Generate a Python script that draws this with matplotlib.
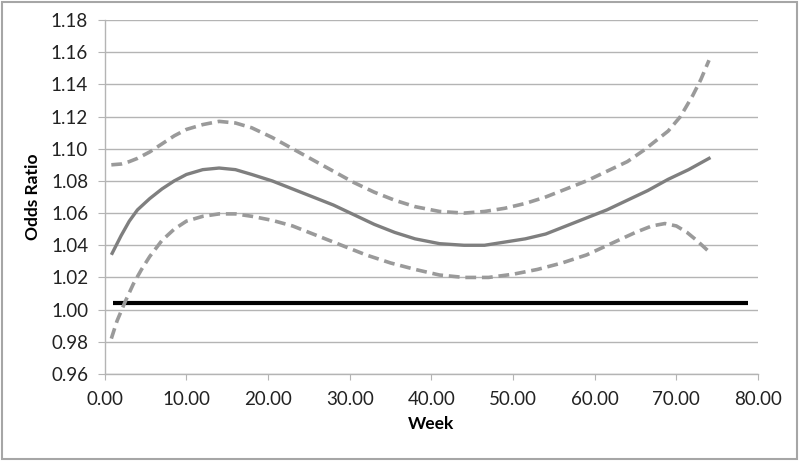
import matplotlib
matplotlib.use("Agg")
import matplotlib.pyplot as plt
from matplotlib.patches import Rectangle

plt.rcParams['font.family'] = ['Lato', 'DejaVu Sans']

# odds ratio estimate (solid)
est_week = [0.9, 2, 3, 4, 5.5, 7, 8.5, 10, 12, 14, 16, 18, 20.5, 23, 25.5, 28, 30.5,
            33, 35.5, 38, 41, 44, 46.5, 49, 51.5, 54, 56.5, 59, 61.5, 64, 66.5, 69, 71.5, 74]
est_or = [1.035, 1.046, 1.055, 1.062, 1.069, 1.075, 1.080, 1.084, 1.087, 1.088, 1.087,
          1.084, 1.080, 1.075, 1.070, 1.065, 1.059, 1.053, 1.048, 1.044, 1.041, 1.040,
          1.040, 1.042, 1.044, 1.047, 1.052, 1.057, 1.062, 1.068, 1.074, 1.081, 1.087, 1.094]

# upper confidence limit
up_week = [0.8, 2, 3, 4, 5.5, 7, 8.5, 10, 12, 14, 16, 18, 20.5, 23, 25.5, 28, 30.5, 33,
           35.5, 38, 41, 44, 46.5, 49, 51.5, 54, 56.5, 59, 61.5, 64, 66, 67.5, 69, 70.5,
           72, 73, 74]
up_or = [1.090, 1.0905, 1.092, 1.094, 1.098, 1.103, 1.108, 1.112, 1.115, 1.117, 1.116,
         1.113, 1.107, 1.100, 1.093, 1.086, 1.079, 1.073, 1.068, 1.064, 1.061, 1.060,
         1.061, 1.063, 1.066, 1.070, 1.075, 1.080, 1.086, 1.092, 1.099, 1.105, 1.111,
         1.120, 1.133, 1.143, 1.155]

# lower confidence limit
lo_week = [0.8, 1.5, 2.5, 3.5, 4.5, 5.5, 7, 8.5, 10, 12, 14, 16, 18, 20.5, 23, 26, 29,
           32, 35, 38, 41, 44, 47, 50, 53, 56, 59, 62, 65, 67, 68.6, 70, 71.3, 72.5, 74]
lo_or = [0.982, 0.993, 1.005, 1.016, 1.025, 1.033, 1.043, 1.050, 1.055, 1.058, 1.0595,
         1.0595, 1.058, 1.0555, 1.052, 1.046, 1.040, 1.034, 1.029, 1.025, 1.0215, 1.020,
         1.020, 1.022, 1.025, 1.029, 1.034, 1.041, 1.048, 1.052, 1.0535, 1.052, 1.048,
         1.043, 1.036]

# reference line
ref_week = [1.0, 78.8]
ref_or = [1.004, 1.004]

fig = plt.figure(figsize=(8, 4.62), dpi=100)
ax = fig.add_axes([0.131, 0.1905, 0.8165, 0.7662])

ax.plot(ref_week, ref_or, color='black', lw=3, solid_capstyle='butt', zorder=3)
ax.plot(up_week, up_or, color='#9a9a9a', lw=2.6, dashes=(3.0, 1.6), zorder=4)
ax.plot(lo_week, lo_or, color='#9a9a9a', lw=2.6, dashes=(3.0, 1.6), zorder=4)
ax.plot(est_week, est_or, color='#7f7f7f', lw=2.4, zorder=5)

ax.set_xlim(0, 80)
ax.set_ylim(0.96, 1.18)
ax.set_xticks(range(0, 81, 10))
ax.set_yticks([0.96 + 0.02 * i for i in range(12)])
ax.xaxis.set_major_formatter(plt.FormatStrFormatter('%.2f'))
ax.yaxis.set_major_formatter(plt.FormatStrFormatter('%.2f'))
ax.grid(axis='y', color='#b4b4b4', lw=1)
ax.set_axisbelow(True)
for s in ['top', 'right']:
    ax.spines[s].set_visible(False)
for s in ['left', 'bottom']:
    ax.spines[s].set_color('#b4b4b4')
    ax.spines[s].set_linewidth(1)
ax.tick_params(axis='y', length=5, color='#b4b4b4', labelsize=13.5, pad=7, labelcolor='#222222')
ax.tick_params(axis='x', length=4, color='#b4b4b4', labelsize=13.5, pad=8, labelcolor='#222222')
ax.set_xlabel('Week', fontsize=12.5, fontweight='bold', labelpad=6)
ax.set_ylabel('Odds Ratio', fontsize=12.5, fontweight='bold', labelpad=7)

fig.patches.append(Rectangle((2 / 800, 3 / 462), 795 / 800, 457 / 462, transform=fig.transFigure,
                             fill=False, edgecolor='#a6a6a6', lw=1.5))

fig.savefig('out.png', dpi=100)
